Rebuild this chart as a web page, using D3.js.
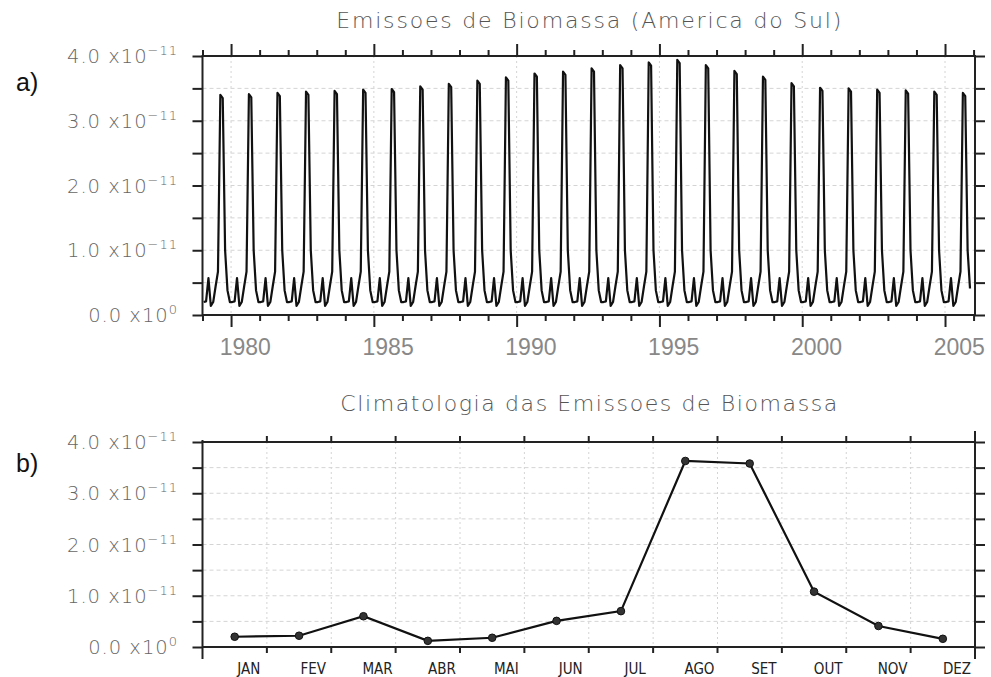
<!DOCTYPE html>
<html>
<head>
<meta charset="utf-8">
<script src="https://cdn.jsdelivr.net/npm/d3@7"></script>
<style>
  body { margin: 0; background: #fff; }
  .tick-label { font-family: "DejaVu Sans", sans-serif; font-weight: 200; fill: #666; letter-spacing: 1px; }
  .title { font-family: "DejaVu Sans", sans-serif; font-weight: 200; fill: #555; }
  .panel-tag { font-family: "Liberation Sans", Arial, sans-serif; fill: #111; }
  .month-label { font-family: "Liberation Sans Narrow", "DejaVu Sans Condensed", sans-serif; fill: #222; }
</style>
</head>
<body>
<svg id="chart" width="991" height="677"></svg>
<script>
// Years of the monthly series (top panel)
const years = [1979, 1980, 1981, 1982, 1983, 1984, 1985, 1986, 1987, 1988, 1989, 1990, 1991,
               1992, 1993, 1994, 1995, 1996, 1997, 1998, 1999, 2000, 2001, 2002, 2003, 2004, 2005]

// Monthly emissions (x 1e-11), one row per year, Jan..Dec (2005 ends in Nov)
const emissions = [
  [0.20, 0.21, 0.57, 0.14, 0.20, 0.44, 0.67, 3.40, 3.35, 1.00, 0.38, 0.20], // 1979
  [0.20, 0.21, 0.57, 0.14, 0.20, 0.44, 0.67, 3.41, 3.36, 1.00, 0.38, 0.20], // 1980
  [0.20, 0.21, 0.57, 0.14, 0.20, 0.44, 0.67, 3.43, 3.38, 1.00, 0.38, 0.20], // 1981
  [0.20, 0.21, 0.57, 0.14, 0.20, 0.44, 0.67, 3.45, 3.40, 1.00, 0.38, 0.20], // 1982
  [0.20, 0.21, 0.57, 0.14, 0.20, 0.44, 0.67, 3.46, 3.41, 1.00, 0.38, 0.20], // 1983
  [0.20, 0.21, 0.57, 0.14, 0.20, 0.44, 0.67, 3.48, 3.43, 1.00, 0.38, 0.20], // 1984
  [0.20, 0.21, 0.57, 0.14, 0.20, 0.44, 0.67, 3.49, 3.44, 1.00, 0.38, 0.20], // 1985
  [0.20, 0.21, 0.57, 0.14, 0.20, 0.44, 0.67, 3.53, 3.48, 1.00, 0.38, 0.20], // 1986
  [0.20, 0.21, 0.57, 0.14, 0.20, 0.44, 0.67, 3.57, 3.52, 1.00, 0.38, 0.20], // 1987
  [0.20, 0.21, 0.57, 0.14, 0.20, 0.44, 0.67, 3.62, 3.57, 1.00, 0.38, 0.20], // 1988
  [0.20, 0.21, 0.57, 0.14, 0.20, 0.44, 0.67, 3.67, 3.62, 1.00, 0.38, 0.20], // 1989
  [0.20, 0.21, 0.57, 0.14, 0.20, 0.44, 0.67, 3.73, 3.68, 1.00, 0.38, 0.20], // 1990
  [0.20, 0.21, 0.57, 0.14, 0.20, 0.44, 0.67, 3.76, 3.71, 1.00, 0.38, 0.20], // 1991
  [0.20, 0.21, 0.57, 0.14, 0.20, 0.44, 0.67, 3.81, 3.76, 1.00, 0.38, 0.20], // 1992
  [0.20, 0.21, 0.57, 0.14, 0.20, 0.44, 0.67, 3.86, 3.81, 1.00, 0.38, 0.20], // 1993
  [0.20, 0.21, 0.57, 0.14, 0.20, 0.44, 0.67, 3.90, 3.85, 1.00, 0.38, 0.20], // 1994
  [0.20, 0.21, 0.57, 0.14, 0.20, 0.44, 0.67, 3.94, 3.89, 1.00, 0.38, 0.20], // 1995
  [0.20, 0.21, 0.57, 0.14, 0.20, 0.44, 0.67, 3.86, 3.81, 1.00, 0.38, 0.20], // 1996
  [0.20, 0.21, 0.57, 0.14, 0.20, 0.44, 0.67, 3.77, 3.72, 1.00, 0.38, 0.20], // 1997
  [0.20, 0.21, 0.57, 0.14, 0.20, 0.44, 0.67, 3.68, 3.63, 1.00, 0.38, 0.20], // 1998
  [0.20, 0.21, 0.57, 0.14, 0.20, 0.44, 0.67, 3.58, 3.53, 1.00, 0.38, 0.20], // 1999
  [0.20, 0.21, 0.57, 0.14, 0.20, 0.44, 0.67, 3.51, 3.46, 1.00, 0.38, 0.20], // 2000
  [0.20, 0.21, 0.57, 0.14, 0.20, 0.44, 0.67, 3.50, 3.45, 1.00, 0.38, 0.20], // 2001
  [0.20, 0.21, 0.57, 0.14, 0.20, 0.44, 0.67, 3.48, 3.43, 1.00, 0.38, 0.20], // 2002
  [0.20, 0.21, 0.57, 0.14, 0.20, 0.44, 0.67, 3.47, 3.42, 1.00, 0.38, 0.20], // 2003
  [0.20, 0.21, 0.57, 0.14, 0.20, 0.44, 0.67, 3.45, 3.40, 1.00, 0.38, 0.20], // 2004
  [0.20, 0.21, 0.57, 0.14, 0.20, 0.44, 0.67, 3.43, 3.38, 1.00, 0.41]        // 2005
]

// Climatology (bottom panel)
const months = ["JAN", "FEV", "MAR", "ABR", "MAI", "JUN", "JUL", "AGO", "SET", "OUT", "NOV", "DEZ"]
const climatology = [0.20, 0.22, 0.60, 0.12, 0.18, 0.51, 0.70, 3.63, 3.58, 1.08, 0.41, 0.16]

// Axis ticks / labels
const yTicks = [0, 0.5, 1, 1.5, 2, 2.5, 3, 3.5, 4]
const yLabels = [0, 1, 2, 3, 4]
const yearTicks = [1979, 1980, 1981, 1982, 1983, 1984, 1985, 1986, 1987, 1988, 1989, 1990, 1991, 1992,
                   1993, 1994, 1995, 1996, 1997, 1998, 1999, 2000, 2001, 2002, 2003, 2004, 2005, 2006]
const yearLabels = [1980, 1985, 1990, 1995, 2000, 2005]

const svg = d3.select("#chart")
const left = 202.5, right = 975
const axisColor = "#222"

// flatten the monthly table into time points (mid-month)
let series = []
emissions.forEach((row, i) => {
  row.forEach((v, m) => {
    series.push({ t: years[i] + (m + 0.5) / 12, v: v })
  })
})

// helper: y tick labels "4.0 x10^-11"
const drawYLabels = (g, y) => {
  yLabels.forEach((v) => {
    let t = g.append("text")
      .attr("class", "tick-label")
      .attr("x", 178)
      .attr("y", y(v) + 7)
      .attr("text-anchor", "end")
      .style("font-size", "19.5px")
    t.append("tspan").text(v.toFixed(1) + " x10")
    t.append("tspan")
      .attr("dy", -8)
      .style("font-size", "13px")
      .text(v === 0 ? "0" : "\u221211")
  })
}

// helper: grid + frame + left/right y ticks
const drawYFrame = (g, y, top, bottom) => {
  g.append("g").selectAll("line")
    .data(yTicks.filter((d) => d > 0 && d < 4))
    .enter().append("line")
      .attr("x1", left).attr("x2", right)
      .attr("y1", (d) => y(d)).attr("y2", (d) => y(d))
      .attr("stroke", "#d4d4d4")
      .attr("stroke-width", 1)
      .attr("stroke-dasharray", "4,3")

  g.append("g")
      .attr("transform", "translate(" + left + ",0)")
      .call(d3.axisLeft(y).tickValues(yTicks).tickSize(10).tickSizeOuter(0).tickFormat(""))
  g.append("g")
      .attr("transform", "translate(" + right + ",0)")
      .call(d3.axisRight(y).tickValues(yTicks).tickSize(10).tickSizeOuter(0).tickFormat(""))

  g.append("rect")
    .attr("x", left).attr("y", top)
    .attr("width", right - left).attr("height", bottom - top)
    .attr("fill", "none")
    .attr("stroke", axisColor)
    .attr("stroke-width", 2)
}

/* ---------------- a) time series ---------------- */
const top1 = 56, bot1 = 315
let x1 = d3.scaleLinear().domain([1979, 2006.05]).range([left, right])
let y1 = d3.scaleLinear().domain([0, 4]).range([bot1, top1])
let g1 = svg.append("g")

// vertical dotted grid on the labelled years
g1.append("g").selectAll("line")
  .data(yearLabels)
  .enter().append("line")
    .attr("x1", (d) => x1(d)).attr("x2", (d) => x1(d))
    .attr("y1", top1).attr("y2", bot1)
    .attr("stroke", "#d4d4d4")
    .attr("stroke-dasharray", "2,3")

drawYFrame(g1, y1, top1, bot1)

// year ticks top & bottom, long ones every 5 years
let xTop1 = g1.append("g")
    .attr("transform", "translate(0," + top1 + ")")
    .call(d3.axisTop(x1).tickValues(yearTicks).tickSize(6).tickSizeOuter(0).tickFormat(""))
let xBot1 = g1.append("g")
    .attr("transform", "translate(0," + bot1 + ")")
    .call(d3.axisBottom(x1).tickValues(yearTicks).tickSize(6).tickSizeOuter(0).tickFormat(""))
xTop1.selectAll(".tick line").filter((d) => d % 5 === 0).attr("y2", -12)
xBot1.selectAll(".tick line").filter((d) => d % 5 === 0).attr("y2", 12)

g1.selectAll(".domain").remove()
g1.selectAll(".tick line").attr("stroke", axisColor).attr("stroke-width", 2)

// year labels centred in the year
g1.append("g").selectAll("text")
  .data(yearLabels)
  .enter().append("text")
    .attr("x", (d) => x1(d + 0.5))
    .attr("y", 355)
    .attr("text-anchor", "middle")
    .style("font-family", "'Liberation Sans', sans-serif")
    .style("fill", "#888")
    .style("font-size", "23px")
    .text((d) => d)

drawYLabels(g1, y1)

let line1 = d3.line()
  .x((d) => x1(d.t))
  .y((d) => y1(d.v))

g1.append("path")
  .datum(series)
  .attr("d", line1)
  .attr("fill", "none")
  .attr("stroke", "#111")
  .attr("stroke-width", 2.2)
  .attr("stroke-linejoin", "round")

g1.append("text")
  .attr("class", "title")
  .attr("x", (left + right) / 2)
  .attr("y", 28)
  .attr("text-anchor", "middle")
  .attr("textLength", 505)
  .attr("lengthAdjust", "spacing")
  .style("font-size", "22px")
  .text("Emissoes de Biomassa (America do Sul)")

/* ---------------- b) climatology ---------------- */
const top2 = 442, bot2 = 647
let x2 = d3.scaleBand().domain(months).range([left, right])
let y2 = d3.scaleLinear().domain([0, 4]).range([bot2, top2])
let g2 = svg.append("g")
let bw = x2.bandwidth()
let bounds = d3.range(months.length + 1).map((i) => left + i * bw)

g2.append("g").selectAll("line")
  .data(bounds.slice(1, -1))
  .enter().append("line")
    .attr("x1", (d) => d).attr("x2", (d) => d)
    .attr("y1", top2).attr("y2", bot2)
    .attr("stroke", "#d4d4d4")
    .attr("stroke-dasharray", "2,3")

drawYFrame(g2, y2, top2, bot2)
g2.selectAll(".domain").remove()
g2.selectAll(".tick line").attr("stroke", axisColor).attr("stroke-width", 2)

// month boundary ticks
g2.append("g").selectAll("line")
  .data(bounds)
  .enter().append("line")
    .attr("x1", (d) => d).attr("x2", (d) => d)
    .attr("y1", (d, i) => top2 - ((i === 0) ? 2 : (i === months.length ? 11 : 6)))
    .attr("y2", top2)
    .attr("stroke", axisColor).attr("stroke-width", 2)
g2.append("g").selectAll("line")
  .data(bounds)
  .enter().append("line")
    .attr("x1", (d) => d).attr("x2", (d) => d)
    .attr("y1", bot2)
    .attr("y2", (d, i) => bot2 + ((i === 0 || i === months.length) ? 12 : 6))
    .attr("stroke", axisColor).attr("stroke-width", 2)

g2.append("g").selectAll("text")
  .data(months)
  .enter().append("text")
    .attr("class", "month-label")
    .attr("x", (d) => x2(d) + bw * 0.72)
    .attr("y", 674)
    .attr("text-anchor", "middle")
    .style("font-size", "15px")
    .text((d) => d)

drawYLabels(g2, y2)

let line2 = d3.line()
  .x((d, i) => x2(months[i]) + bw / 2)
  .y((d) => y2(d))

g2.append("path")
  .datum(climatology)
  .attr("d", line2)
  .attr("fill", "none")
  .attr("stroke", "#111")
  .attr("stroke-width", 2.2)

g2.selectAll("circle")
  .data(climatology)
  .enter().append("circle")
    .attr("cx", (d, i) => x2(months[i]) + bw / 2)
    .attr("cy", (d) => y2(d))
    .attr("r", 3.8)
    .attr("fill", "#333")
    .attr("stroke", "#111")
    .attr("stroke-width", 1)

g2.append("text")
  .attr("class", "title")
  .attr("x", (left + right) / 2)
  .attr("y", 411)
  .attr("text-anchor", "middle")
  .attr("textLength", 497)
  .attr("lengthAdjust", "spacing")
  .style("font-size", "22px")
  .text("Climatologia das Emissoes de Biomassa")

// panel tags
svg.append("text").attr("class", "panel-tag")
  .attr("x", 16).attr("y", 91).style("font-size", "25px").text("a)")
svg.append("text").attr("class", "panel-tag")
  .attr("x", 16).attr("y", 472).style("font-size", "25px").text("b)")
</script>
</body>
</html>
